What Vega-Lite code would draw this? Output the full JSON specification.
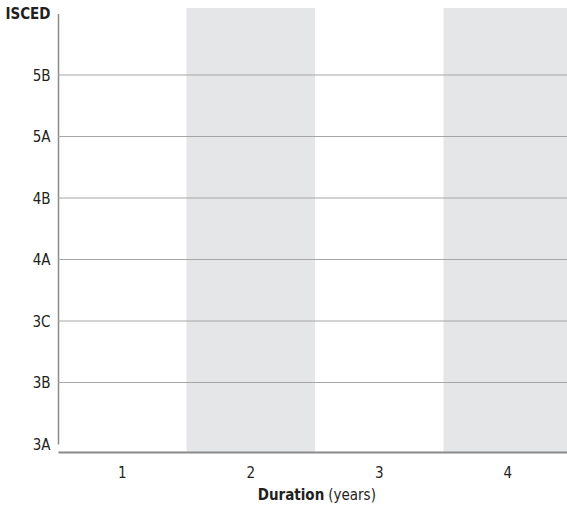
{
  "$schema": "https://vega.github.io/schema/vega-lite/v6.json",
  "width": 509,
  "height": 444,
  "autosize": {"type": "none"},
  "padding": {"left": 58, "top": 8, "right": 0, "bottom": 54},
  "config": {
    "view": {"stroke": null},
    "font": "DejaVu Sans Condensed, Roboto, sans-serif",
    "axis": {
      "labelFont": "DejaVu Sans Condensed, Roboto, sans-serif",
      "titleFont": "DejaVu Sans Condensed, Roboto, sans-serif",
      "labelFontSize": 15,
      "titleFontSize": 15,
      "labelColor": "#231f20",
      "titleColor": "#231f20",
      "ticks": false,
      "tickSize": 0,
      "grid": false,
      "domainColor": "#8a8a8a"
    }
  },
  "datasets": {
    "bands": [{"duration": 2}, {"duration": 4}],
    "levels": [
      {"level": "3B"}, {"level": "3C"}, {"level": "4A"}, {"level": "4B"}, {"level": "5A"}, {"level": "5B"}
    ]
  },
  "layer": [
    {
      "data": {"name": "bands"},
      "mark": {"type": "rect", "fill": "#e5e6e8"},
      "encoding": {
        "x": {
          "field": "duration",
          "type": "ordinal",
          "scale": {"domain": [1, 2, 3, 4], "range": [0, 514], "paddingInner": 0, "paddingOuter": 0},
          "axis": {
            "labelAngle": 0,
            "labelPadding": 13,
            "domainWidth": 2,
            "title": null
          }
        }
      }
    },
    {
      "data": {"name": "levels"},
      "mark": {"type": "rule", "stroke": "#a6a6a6", "strokeWidth": 1},
      "encoding": {
        "y": {
          "field": "level",
          "type": "ordinal",
          "scale": {
            "type": "point",
            "domain": ["3A", "3B", "3C", "4A", "4B", "5A", "5B", "ISCED"],
            "range": [436, 5.5],
            "padding": 0
          },
          "axis": {
            "title": null,
            "labelPadding": 8,
            "domainWidth": 1.5,
            "labelFontWeight": {"condition": {"test": "datum.value === 'ISCED'", "value": "bold"}, "value": "normal"}
          }
        }
      }
    },
    {
      "data": {"values": [{"label": "Duration"}]},
      "mark": {
        "type": "text",
        "align": "right",
        "baseline": "alphabetic",
        "fontSize": 15,
        "fontWeight": "bold",
        "font": "DejaVu Sans Condensed, Roboto, sans-serif",
        "color": "#231f20",
        "dy": 56,
        "dx": -55
      },
      "encoding": {
        "text": {"field": "label"},
        "x": {"datum": 3, "type": "ordinal"},
        "y": {"datum": "3A", "type": "ordinal"}
      }
    },
    {
      "data": {"values": [{"label": "(years)"}]},
      "mark": {
        "type": "text",
        "align": "left",
        "baseline": "alphabetic",
        "fontSize": 15,
        "font": "DejaVu Sans Condensed, Roboto, sans-serif",
        "color": "#231f20",
        "dy": 56,
        "dx": -51
      },
      "encoding": {
        "text": {"field": "label"},
        "x": {"datum": 3, "type": "ordinal"},
        "y": {"datum": "3A", "type": "ordinal"}
      }
    }
  ]
}
